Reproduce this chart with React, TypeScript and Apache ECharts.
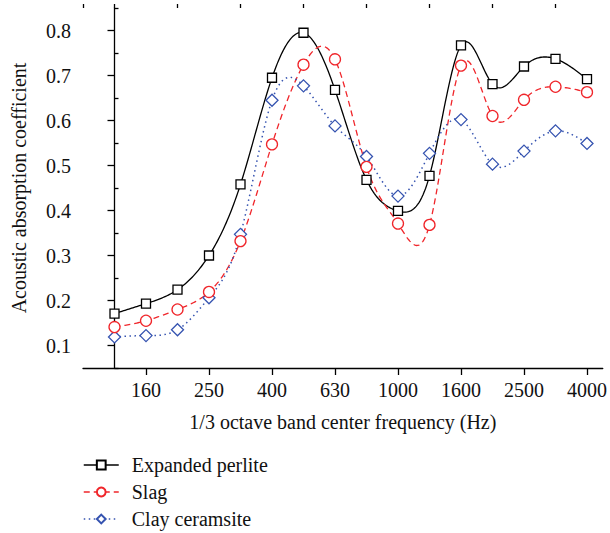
import React, { useEffect, useRef } from 'react';
import * as echarts from 'echarts';

const frequencies = ['125', '160', '200', '250', '315', '400', '500', '630', '800', '1000', '1250', '1600', '2000', '2500', '3150', '4000'];
const expandedPerlite = [0.171, 0.193, 0.224, 0.300, 0.458, 0.695, 0.795, 0.668, 0.468, 0.399, 0.477, 0.767, 0.681, 0.720, 0.737, 0.692];
const slag = [0.141, 0.155, 0.180, 0.219, 0.332, 0.547, 0.724, 0.736, 0.497, 0.371, 0.368, 0.722, 0.610, 0.646, 0.675, 0.663];
const clayCeramsite = [0.119, 0.122, 0.135, 0.206, 0.347, 0.645, 0.677, 0.588, 0.520, 0.432, 0.527, 0.602, 0.503, 0.532, 0.577, 0.549];
const seriesNames = ['Expanded perlite', 'Slag', 'Clay ceramsite'];
const xMajorTicks = [1, 3, 5, 7, 9, 11, 13, 15];
const xMinorTicks = [-1, 0, 2, 4, 6, 8, 10, 12, 14];
const yMajorTicks = [0.1, 0.2, 0.3, 0.4, 0.5, 0.6, 0.7, 0.8];
const yMinorTicks = [0.05, 0.15, 0.25, 0.35, 0.45, 0.55, 0.65, 0.75, 0.85];

const FONT = "'Liberation Serif', 'Times New Roman', serif";
const FS = 20;
const BLACK = '#000';
const RED = '#f0262b';
const BLUE = '#3553b0';

// natural cubic spline second derivatives for unit spacing
function splineM(y: number[]): number[] {
  const n = y.length;
  const M = new Array(n).fill(0);
  if (n < 3) return M;
  const a: number[] = [], b: number[] = [], c: number[] = [], d: number[] = [];
  for (let i = 1; i < n - 1; i++) {
    a.push(1); b.push(4); c.push(1);
    d.push(6 * (y[i + 1] - 2 * y[i] + y[i - 1]));
  }
  const m = d.length;
  for (let i = 1; i < m; i++) {
    const w = a[i] / b[i - 1];
    b[i] -= w * c[i - 1];
    d[i] -= w * d[i - 1];
  }
  const x = new Array(m).fill(0);
  x[m - 1] = d[m - 1] / b[m - 1];
  for (let i = m - 2; i >= 0; i--) x[i] = (d[i] - c[i] * x[i + 1]) / b[i];
  for (let i = 0; i < m; i++) M[i + 1] = x[i];
  return M;
}

function splineCurve(y: number[], steps: number): number[][] {
  const M = splineM(y);
  const out: number[][] = [];
  for (let i = 0; i < y.length - 1; i++) {
    for (let s = 0; s < steps; s++) {
      const t = s / steps;
      const A = 1 - t, B = t;
      const v = A * y[i] + B * y[i + 1] + ((A * A * A - A) * M[i] + (B * B * B - B) * M[i + 1]) / 6;
      out.push([i + t, v]);
    }
  }
  out.push([y.length - 1, y[y.length - 1]]);
  return out;
}

export default function App() {
  const ref = useRef<HTMLDivElement>(null);
  useEffect(() => {
    if (!ref.current) return;
    const chart = echarts.init(ref.current, null, { renderer: 'svg' });
    const toPts = (arr: number[]) => arr.map((v, i) => [i, v]);
    const axisLine = { show: true, lineStyle: { color: BLACK, width: 1.3 } };
    const baseX = { type: 'value' as const, min: -1, max: 15.5, splitLine: { show: false } };
    const baseY = { type: 'value' as const, min: 0.05, max: 0.85, splitLine: { show: false } };
    const styles = [
      { color: BLACK, width: 1.3, type: 'solid' as any },
      { color: RED, width: 1.3, type: [6, 4] as any },
      { color: BLUE, width: 1.5, type: [1.5, 3.5] as any },
    ];
    const datasets = [expandedPerlite, slag, clayCeramsite];
    const curveSeries = datasets.map((arr, k) => ({
      type: 'custom',
      name: seriesNames[k] + ' curve',
      data: toPts(arr),
      silent: true,
      z: 1,
      renderItem: (params: any, api: any) => {
        if (params.dataIndex !== 0) return null;
        const pts = splineCurve(arr, 24).map((p) => api.coord(p));
        return {
          type: 'polyline',
          shape: { points: pts },
          style: { fill: 'none', stroke: styles[k].color, lineWidth: styles[k].width, lineDash: styles[k].type === 'solid' ? null : styles[k].type },
        };
      },
    }));
    const symbols = [
      { symbol: 'rect', size: 9 },
      { symbol: 'circle', size: 11 },
      { symbol: 'diamond', size: 12 },
    ];
    const markerSeries = datasets.map((arr, k) => ({
      name: seriesNames[k],
      type: 'line',
      data: toPts(arr),
      symbol: symbols[k].symbol,
      symbolSize: symbols[k].size,
      showAllSymbol: true,
      lineStyle: { ...styles[k], opacity: 0 },
      itemStyle: { color: '#fff', borderColor: styles[k].color, borderWidth: 1.3 },
      z: 5 - k,
    }));
    chart.setOption({
      animation: false,
      backgroundColor: '#fff',
      textStyle: { fontFamily: FONT },
      grid: { left: 83, top: 8, width: 522, height: 360, containLabel: false },
      xAxis: [
        {
          ...baseX,
          axisLine,
          axisTick: { show: true, customValues: xMajorTicks, length: 7, lineStyle: { color: BLACK, width: 1.3 } },
          axisLabel: {
            customValues: xMajorTicks,
            formatter: (v: number) => frequencies[Math.round(v)] ?? '',
            color: '#111',
            fontSize: FS,
            fontFamily: FONT,
            margin: 12,
          },
          name: '1/3 octave band center frequency (Hz)',
          nameLocation: 'middle',
          nameGap: 44,
          nameTextStyle: { fontSize: FS, fontFamily: FONT, color: '#111' },
        },
        {
          ...baseX,
          axisLine: { show: false },
          axisTick: { show: true, customValues: xMinorTicks, length: 4, lineStyle: { color: BLACK, width: 1.3 } },
          axisLabel: { show: false },
        },
      ],
      yAxis: [
        {
          ...baseY,
          axisLine,
          axisTick: { show: true, customValues: yMajorTicks, length: 7, lineStyle: { color: BLACK, width: 1.3 } },
          axisLabel: {
            customValues: yMajorTicks,
            formatter: (v: number) => v.toFixed(1),
            color: '#111',
            fontSize: FS,
            fontFamily: FONT,
            margin: 12,
          },
          name: 'Acoustic absorption coefficient',
          nameLocation: 'middle',
          nameGap: 54,
          nameTextStyle: { fontSize: FS, fontFamily: FONT, color: '#111' },
        },
        {
          ...baseY,
          axisLine: { show: false },
          axisTick: { show: true, customValues: yMinorTicks, length: 4, lineStyle: { color: BLACK, width: 1.3 } },
          axisLabel: { show: false },
        },
      ],
      legend: {
        orient: 'vertical',
        left: 83,
        top: 455,
        itemWidth: 35,
        itemHeight: 11,
        itemGap: 7,
        padding: 0,
        textStyle: { fontSize: FS, fontFamily: FONT, color: '#111', lineHeight: 20, padding: [0, 0, 0, 8] },
        data: seriesNames.map((n, k) => ({
          name: n,
          lineStyle: { color: styles[k].color, width: styles[k].width, type: styles[k].type, opacity: 1 },
        })),
      },
      series: [...curveSeries, ...markerSeries],
    });
    return () => chart.dispose();
  }, []);
  return <div ref={ref} style={{ position: 'fixed', left: 0, top: 0, width: 610, height: 533 }} />;
}
